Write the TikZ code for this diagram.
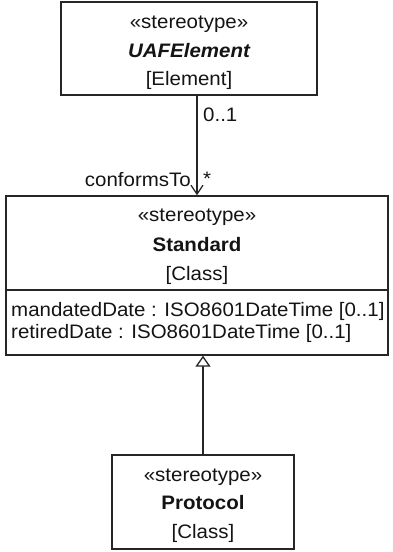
\documentclass[tikz,border=0pt]{standalone}
\usepackage{fontspec}
\setmainfont{Liberation Sans}[FakeStretch=1.05]
\usetikzlibrary{arrows.meta}
\begin{document}
\begin{tikzpicture}[x=1pt,y=-1pt,
  box/.style={draw=black!85, line width=1.3pt, inner sep=0pt, fill=white},
  txt/.style={inner sep=0pt, anchor=base, font=\fontsize{19.5}{22}\selectfont, text=black!92},
  assoc/.style={draw=black!85, line width=1.3pt, -{Straight Barb[length=9pt,width=12pt,line width=1.3pt]}},
  gen/.style={draw=black!85, line width=1.3pt, -{Triangle[open,length=11pt,width=15pt,line width=1.3pt,fill=white]}}]
\useasboundingbox (0,0) rectangle (393,552);
% boxes
\node[box, minimum width=256pt, minimum height=93pt] (top) at (189,48.5) {};
\node[box, minimum width=382pt, minimum height=94pt] (std) at (197,243) {};
\node[box, minimum width=382pt, minimum height=65pt] (stdattr) at (197,322.5) {};
\node[box, minimum width=182pt, minimum height=94pt] (proto) at (203,502) {};
% top texts
\node[txt] (t1) at (189,28) {«stereotype»};
\node[txt, font=\fontsize{19.5}{22}\selectfont\bfseries\itshape] (t2) at (189,57) {UAFElement};
\node[txt] (t3) at (189,85) {[Element]};
% standard texts
\node[txt] (s1) at (197,221) {«stereotype»};
\node[txt, font=\fontsize{19.5}{22}\selectfont\bfseries] (s2) at (197,251) {Standard};
\node[txt] (s3) at (197,280) {[Class]};
\node[txt, anchor=base west] (a1) at (11,316) {mandatedDate : ISO8601DateTime [0..1]};
\node[txt, anchor=base west] (a2) at (11,338) {retiredDate : ISO8601DateTime [0..1]};
% protocol texts
\node[txt] (p1) at (203,481) {«stereotype»};
\node[txt, font=\fontsize{19.5}{22}\selectfont\bfseries] (p2) at (203,509) {Protocol};
\node[txt] (p3) at (203,538) {[Class]};
% connectors
\draw[assoc] (std.north |- top.south) -- (std.north);
\draw[gen] (proto.north) -- (proto.north |- stdattr.south);
% association labels
\node[txt, anchor=base west] (m1) at (203,121) {0..1};
\node[txt, anchor=base west] (m2) at (203,185) {*};
\node[txt, anchor=base east] (r1) at (191,186) {conformsTo};
\end{tikzpicture}
\end{document}
